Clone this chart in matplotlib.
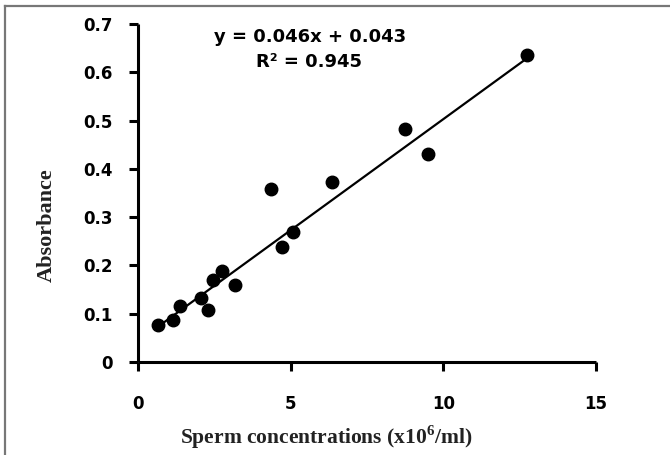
import numpy as np
import matplotlib
matplotlib.use('Agg')
import matplotlib.pyplot as plt
from matplotlib.lines import Line2D

plt.rcParams['mathtext.fontset'] = 'custom'
plt.rcParams['mathtext.rm'] = 'Liberation Serif:bold'

# sperm concentration (x10^6/ml) vs absorbance
conc = [0.66, 1.16, 1.38, 2.05, 2.30, 2.47, 2.75, 3.18, 4.35, 4.73, 5.09, 6.34, 8.75, 9.49, 12.75]
absorb = [0.077, 0.087, 0.115, 0.132, 0.108, 0.170, 0.189, 0.159, 0.358, 0.238, 0.270, 0.373, 0.482, 0.431, 0.636]

slope = 0.046
intercept = 0.043
r2 = 0.945

xticks = [0, 5, 10, 15]
yticks = [0, 0.1, 0.2, 0.3, 0.4, 0.5, 0.6, 0.7]
yticklabels = ['0', '0.1', '0.2', '0.3', '0.4', '0.5', '0.6', '0.7']

fig = plt.figure(figsize=(6.7, 4.55), dpi=100)
ax = fig.add_axes([0.206, 0.2044, 0.6836, 0.7429])

ax.plot(conc, absorb, 'o', color='black', markersize=9, zorder=3)
xfit = np.array([min(conc), max(conc)])
ax.plot(xfit, slope * xfit + intercept, color='black', lw=1.6, zorder=2)

ax.set_xlim(0, 15)
ax.set_ylim(0, 0.7)
ax.set_xticks(xticks)
ax.set_yticks(yticks)
ax.set_yticklabels(yticklabels)

for s in ['top', 'right']:
    ax.spines[s].set_visible(False)
for s in ['left', 'bottom']:
    ax.spines[s].set_linewidth(2.2)
    ax.spines[s].set_color('black')
    ax.spines[s].set_capstyle('butt')

ax.tick_params(axis='both', direction='out', length=6.5, width=2.2, colors='black',
               labelsize=12)
ax.tick_params(axis='y', pad=12)
ax.tick_params(axis='x', pad=17)
for lab in ax.get_xticklabels() + ax.get_yticklabels():
    lab.set_family('DejaVu Sans')
    lab.set_weight('bold')

ax.text(5.63, 0.674, 'y = 0.046x + 0.043', ha='center', va='center', fontsize=13,
        weight='bold')
ax.text(5.6, 0.622, 'R² = %.3f' % r2, ha='center', va='center', fontsize=13,
        weight='bold')

fig.text(47 / 670, 1 - 225 / 455, 'Absorbance', rotation=90, ha='center', va='center',
         family='Liberation Serif', weight='bold', fontsize=16, color='#222222')
fig.text(326 / 670, 1 - 437 / 455, 'Sperm concentrations (x10$^{6}$/ml)', ha='center', va='center',
         family='Liberation Serif', weight='bold', fontsize=15.5, color='#222222')

# grey frame, left and top edges
fig.add_artist(Line2D([5 / 670, 5 / 670], [0, 1 - 6 / 455], transform=fig.transFigure,
                      color='#777777', lw=1.6))
fig.add_artist(Line2D([5 / 670, 1], [1 - 6 / 455, 1 - 6 / 455], transform=fig.transFigure,
                      color='#777777', lw=1.6))

fig.savefig('out.png', dpi=100)
